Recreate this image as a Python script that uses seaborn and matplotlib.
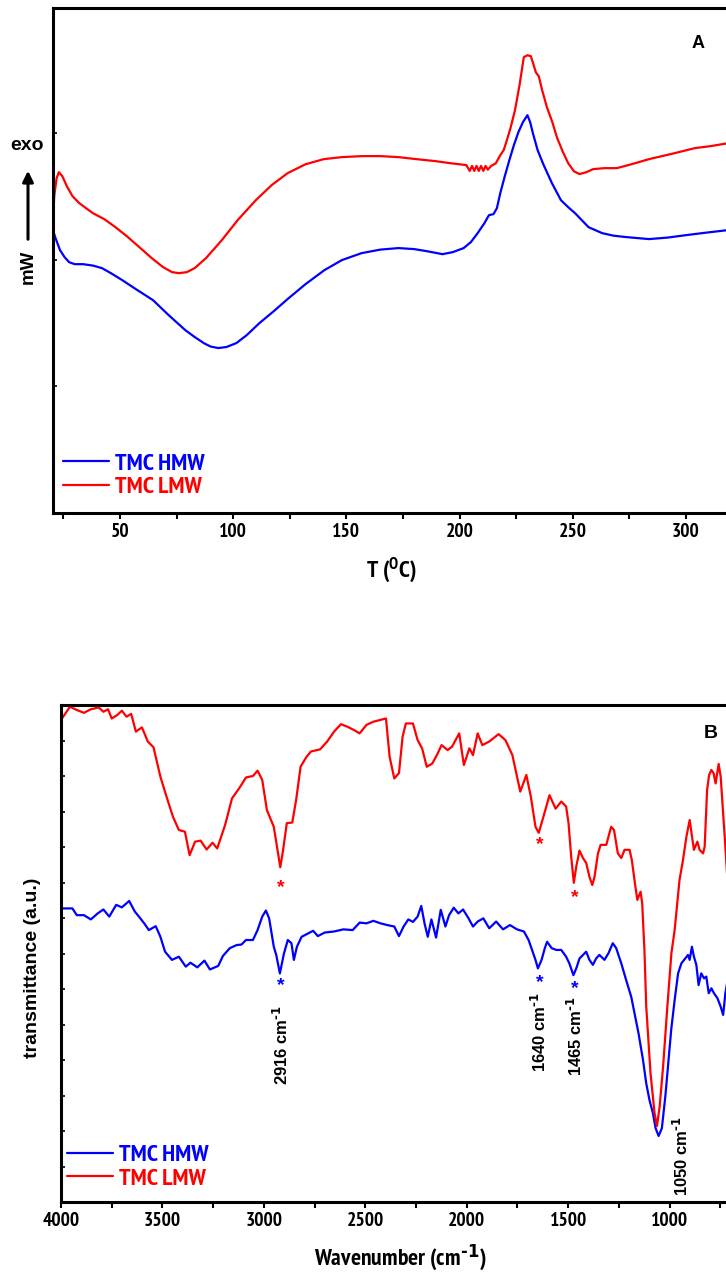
import pandas as pd
import matplotlib
matplotlib.use("Agg")
import matplotlib.pyplot as plt
import seaborn as sns
from matplotlib import font_manager

# ---- data ----
series = ["TMC HMW", "TMC LMW"]
colors = {"TMC HMW": "#0000FF", "TMC LMW": "#FF0000"}

# Panel A: DSC (T in degC, heat flow in arbitrary mW units)
dsc_t_hmw = [20.4, 21.5, 23.5, 25.5, 27.5, 30, 33.7, 38, 42, 46, 51, 57, 64.6, 71, 78.8, 83, 87, 90,
             93.4, 97, 101.4, 106, 111.6, 118, 124, 132, 140.3, 148, 156.7, 165, 173, 180, 185.4,
             192.5, 197, 201.8, 205, 208, 211, 213, 215, 216.5, 218, 220, 222, 224, 226, 228, 230,
             231.2, 232.4, 234.5, 237, 240.8, 244.8, 248, 251, 257, 263, 268, 273.5, 283.7, 292,
             300, 309, 318.6]
dsc_hmw = [2.233, 2.170, 2.075, 2.020, 1.980, 1.964, 1.964, 1.953, 1.933, 1.893, 1.838, 1.767, 1.680,
           1.570, 1.444, 1.389, 1.341, 1.314, 1.302, 1.310, 1.341, 1.404, 1.499, 1.594, 1.688, 1.807,
           1.917, 1.996, 2.051, 2.079, 2.091, 2.083, 2.067, 2.043, 2.059, 2.091, 2.138, 2.209, 2.288,
           2.351, 2.359, 2.406, 2.525, 2.659, 2.785, 2.903, 3.006, 3.085, 3.140, 3.085, 2.998, 2.864,
           2.753, 2.604, 2.469, 2.414, 2.367, 2.256, 2.209, 2.189, 2.178, 2.162, 2.174, 2.193, 2.213,
           2.233]

dsc_t_lmw = [20.4, 21, 22, 23, 24.5, 26.5, 29, 32, 35, 38, 43, 48, 53, 58.5, 64, 69, 73, 76, 79.5, 83,
             88, 95, 102, 110, 117, 124, 132, 140, 148, 157, 165, 173, 181, 189.5, 196, 203, 204.5,
             205.5, 206.5, 207.5, 208.5, 209.5, 210.5, 211.5, 212.5, 214, 216, 218, 219.5, 220.5,
             222.5, 224.5, 226.5, 228.4, 230, 231.5, 232.5, 233.7, 235, 236.5, 238.6, 241, 243, 245.5,
             248, 250.5, 253, 256, 259, 264, 269.5, 276, 283.7, 294, 304, 311, 318.6]
dsc_lmw = [2.335, 2.509, 2.643, 2.690, 2.659, 2.580, 2.501, 2.446, 2.406, 2.367, 2.320, 2.256, 2.185,
           2.099, 2.012, 1.941, 1.901, 1.893, 1.901, 1.933, 2.012, 2.154, 2.312, 2.469, 2.588, 2.682,
           2.753, 2.793, 2.809, 2.817, 2.817, 2.809, 2.793, 2.777, 2.761, 2.746, 2.70, 2.74, 2.70,
           2.74, 2.70, 2.74, 2.70, 2.74, 2.71, 2.74, 2.76, 2.824, 2.864, 2.919, 3.037, 3.180, 3.377,
           3.598, 3.613, 3.606, 3.550, 3.479, 3.448, 3.337, 3.203, 3.085, 2.966, 2.856, 2.761, 2.698,
           2.675, 2.690, 2.714, 2.722, 2.722, 2.753, 2.793, 2.836, 2.880, 2.896, 2.919]

# Panel B: FTIR (wavenumber in cm-1, transmittance in arbitrary units)
ir_wn_hmw = [4000, 3944, 3922, 3887, 3853, 3819, 3791, 3762, 3728, 3700, 3664, 3636, 3613, 3590, 3567,
             3533, 3510, 3487, 3453, 3419, 3385, 3362, 3328, 3293, 3266, 3225, 3202, 3168, 3133, 3111,
             3088, 3054, 3031, 3008, 2990, 2974, 2951, 2939, 2921, 2901, 2882, 2864, 2852, 2837, 2814,
             2780, 2757, 2734, 2700, 2654, 2608, 2562, 2528, 2494, 2460, 2425, 2391, 2357, 2334, 2311,
             2288, 2265, 2242, 2224, 2208, 2192, 2174, 2151, 2128, 2105, 2087, 2064, 2041, 2018, 1991,
             1969, 1946, 1918, 1889, 1855, 1821, 1787, 1752, 1718, 1695, 1672, 1661, 1649, 1631, 1615,
             1604, 1581, 1558, 1534, 1510, 1494, 1474, 1460, 1444, 1427, 1411, 1395, 1378, 1362, 1346,
             1321, 1301, 1280, 1263, 1238, 1214, 1189, 1173, 1153, 1131, 1115, 1099, 1082, 1069, 1054,
             1038, 1021, 1008, 992, 975, 958, 942, 923, 909, 901, 890, 880, 868, 857, 844, 830, 819,
             807, 794, 781, 764, 748, 736, 725, 715]
ir_hmw = [8.27, 8.27, 8.08, 8.08, 7.96, 8.13, 8.24, 8.04, 8.37, 8.30, 8.48, 8.18, 8.02, 7.85, 7.66,
          7.77, 7.47, 7.05, 6.82, 6.91, 6.63, 6.74, 6.61, 6.80, 6.55, 6.65, 6.93, 7.15, 7.24, 7.25,
          7.38, 7.38, 7.66, 8.04, 8.21, 7.99, 7.19, 6.96, 6.44, 7.00, 7.38, 7.29, 6.82, 7.19, 7.47,
          7.57, 7.64, 7.49, 7.59, 7.62, 7.68, 7.66, 7.87, 7.85, 7.92, 7.85, 7.80, 7.76, 7.49, 7.76,
          7.96, 7.89, 8.04, 8.34, 7.85, 7.47, 7.96, 7.45, 8.23, 7.76, 8.08, 8.29, 8.13, 8.24, 7.99,
          7.76, 7.90, 7.99, 7.71, 7.90, 7.68, 7.80, 7.68, 7.62, 7.38, 7.00, 6.82, 6.58, 6.82, 7.15,
          7.33, 7.15, 7.10, 7.10, 6.91, 6.72, 6.39, 6.58, 6.86, 6.96, 7.05, 6.82, 6.68, 6.86, 6.96,
          6.82, 7.01, 7.29, 7.15, 6.72, 6.25, 5.78, 5.32, 4.75, 4.00, 3.34, 2.87, 2.50, 2.08, 1.86,
          2.08, 2.97, 3.81, 4.85, 5.69, 6.44, 6.72, 6.86, 6.96, 6.82, 7.19, 6.91, 6.68, 6.11, 6.44,
          6.30, 6.35, 5.88, 6.02, 5.88, 5.74, 5.50, 5.27, 5.88, 6.21]

ir_wn_lmw = [4000, 3956, 3922, 3887, 3853, 3814, 3791, 3768, 3750, 3722, 3700, 3677, 3654, 3631, 3601,
             3572, 3544, 3510, 3480, 3448, 3419, 3389, 3366, 3339, 3312, 3282, 3253, 3230, 3191, 3157,
             3122, 3088, 3054, 3031, 3008, 2985, 2951, 2933, 2919, 2905, 2887, 2860, 2841, 2819, 2791,
             2768, 2723, 2688, 2654, 2620, 2585, 2551, 2528, 2494, 2460, 2425, 2398, 2380, 2357, 2334,
             2316, 2300, 2265, 2242, 2220, 2197, 2170, 2147, 2124, 2094, 2072, 2037, 2014, 1987, 1969,
             1946, 1923, 1889, 1843, 1809, 1775, 1752, 1736, 1706, 1684, 1661, 1645, 1622, 1592, 1562,
             1534, 1510, 1498, 1485, 1472, 1460, 1444, 1427, 1411, 1395, 1381, 1370, 1353, 1340, 1312,
             1288, 1274, 1255, 1238, 1222, 1197, 1186, 1173, 1159, 1143, 1135, 1124, 1115, 1094, 1074,
             1062, 1049, 1032, 1011, 991, 975, 951, 934, 917, 901, 889, 880, 863, 852, 835, 827, 815,
             805, 794, 783, 773, 758, 748, 736, 725, 715]
ir_lmw = [13.58, 13.95, 13.86, 13.78, 13.88, 13.93, 13.81, 13.88, 13.62, 13.72, 13.84, 13.67, 13.75,
          13.25, 13.37, 12.97, 12.81, 11.98, 11.42, 10.85, 10.48, 10.43, 9.77, 10.15, 10.18, 9.93,
          10.12, 9.96, 10.62, 11.37, 11.65, 11.96, 12.00, 12.15, 11.89, 11.04, 10.57, 9.92, 9.43,
          9.92, 10.67, 10.69, 11.32, 12.26, 12.53, 12.69, 12.75, 12.97, 13.25, 13.46, 13.38, 13.28,
          13.20, 13.44, 13.53, 13.58, 13.62, 12.54, 11.93, 12.08, 13.11, 13.48, 13.48, 13.01, 12.78,
          12.26, 12.35, 12.59, 12.87, 12.73, 12.83, 13.20, 12.31, 12.78, 12.59, 13.20, 12.87, 12.97,
          13.18, 13.01, 12.59, 11.98, 11.56, 12.03, 11.42, 10.57, 10.40, 10.85, 11.46, 11.08,
          11.28, 11.14, 10.67, 9.73, 8.99, 9.45, 9.90, 9.69, 9.55, 9.16, 8.93, 9.16, 9.82, 10.06,
          10.06, 10.57, 10.48, 9.82, 9.69, 9.92, 9.92, 9.63, 9.07, 8.51, 8.74, 8.42, 7.10, 5.50,
          3.63, 2.50, 2.14, 2.69, 3.81, 5.50, 7.01, 7.66, 9.07, 9.63, 10.29, 10.76, 10.29, 9.92,
          10.15, 9.92, 9.82, 10.01, 11.61, 12.03, 12.17, 12.08, 11.79, 12.34, 11.98, 10.95, 10.01,
          9.07]

# marked peaks: (wavenumber, y of asterisk baseline)
peaks_wn = [2916, 1640, 1465]
star_y_lmw = [8.73, 9.94, 8.45]
star_y_hmw = [5.97, 6.06, 5.89]
peak_labels = ["2916 cm$^{\\text{-1}}$", "1640 cm$^{\\text{-1}}$", "1465 cm$^{\\text{-1}}$",
               "1050 cm$^{\\text{-1}}$"]
peak_label_x = [2916, 1640, 1465, 942]
peak_label_y = [4.42, 4.79, 4.68, 1.30]

# ---- style ----
sns.set_style("ticks")


def find_narrow_bold():
    # an Arial-Narrow-like bold face for ticks, legend and axis titles
    found = []
    for f in font_manager.fontManager.ttflist:
        nm = (f.name + " " + str(f.fname)).lower()
        st = str(f.stretch).lower()
        narrow_like = ("narrow" in nm or "condensed" in nm
                       or st in ("condensed", "semi-condensed", "extra-condensed"))
        w = f.weight if isinstance(f.weight, int) else {"bold": 700}.get(str(f.weight), 400)
        if narrow_like and w >= 600:
            found.append(f)
    order = ["liberation sans narrow", "pt sans narrow", "pragati narrow"]
    found.sort(key=lambda f: (order.index(f.name.lower()) if f.name.lower() in order else 9, f.fname))
    return found


cands = find_narrow_bold()
if cands:
    narrow_prop = font_manager.FontProperties(fname=cands[0].fname)
else:
    narrow_prop = font_manager.FontProperties(family="Liberation Sans", weight="bold")

plt.rcParams["font.family"] = ["Liberation Sans", "DejaVu Sans"]
plt.rcParams["font.weight"] = "bold"
plt.rcParams["mathtext.default"] = "regular"
plt.rcParams["axes.linewidth"] = 2.2
plt.rcParams["text.color"] = "black"
plt.rcParams["axes.edgecolor"] = "black"
plt.rcParams["xtick.color"] = "black"
plt.rcParams["ytick.color"] = "black"

W, H = 726, 1274
fig = plt.figure(figsize=(W / 100, H / 100), dpi=100)
ax1 = fig.add_axes([53 / W, 1 - 513 / H, 675 / W, 505.5 / H])
ax2 = fig.add_axes([61 / W, 1 - 1202 / H, 667 / W, 497 / H])

dsc = pd.concat([
    pd.DataFrame({"T": dsc_t_hmw, "mW": dsc_hmw, "sample": series[0]}),
    pd.DataFrame({"T": dsc_t_lmw, "mW": dsc_lmw, "sample": series[1]}),
])
ftir = pd.concat([
    pd.DataFrame({"wn": ir_wn_hmw, "tr": ir_hmw, "sample": series[0]}),
    pd.DataFrame({"wn": ir_wn_lmw, "tr": ir_lmw, "sample": series[1]}),
])

sns.lineplot(data=dsc, x="T", y="mW", hue="sample", hue_order=series, palette=colors,
             estimator=None, sort=False, lw=1.6, ax=ax1, legend=False)
sns.lineplot(data=ftir, x="wn", y="tr", hue="sample", hue_order=series, palette=colors,
             estimator=None, sort=False, lw=1.6, ax=ax2, legend=False)


def nfont(size):
    p = narrow_prop.copy()
    p.set_size(size)
    return p


# panel A axes
ax1.set_xlim(20.4, 318.6)
ax1.set_ylim(0, 3.99)
ax1.set_xticks([50, 100, 150, 200, 250, 300])
ax1.set_xticks([25, 75, 125, 175, 225, 275], minor=True)
ax1.set_yticks([1, 2, 3])
ax1.set_xlabel("")
ax1.set_ylabel("")

# panel B axes
ax2.set_xlim(4000, 712)
ax2.set_ylim(0, 14)
ax2.set_xticks([4000, 3500, 3000, 2500, 2000, 1500, 1000])
ax2.set_xticks([3750, 3250, 2750, 2250, 1750, 1250, 750], minor=True)
ax2.set_yticks(range(1, 14))
ax2.set_xlabel("")
ax2.set_ylabel("")

for ax in (ax1, ax2):
    ax.spines["right"].set_visible(False)
    ax.tick_params(axis="x", which="both", direction="out", length=4, width=1.5, pad=3)
    ax.tick_params(axis="y", which="both", direction="in", length=3, width=1.2, labelleft=False)
    for lab in ax.get_xticklabels():
        lab.set_fontproperties(nfont(14))
    handles = ax.lines[:2]
    ax.legend(handles, series, loc="center left", frameon=False, borderpad=0, borderaxespad=0,
              handlelength=1.9, handletextpad=0.22, labelspacing=0.08,
              prop=nfont(17.5), labelcolor="linecolor", bbox_transform=fig.transFigure,
              bbox_to_anchor=((63 if ax is ax1 else 67) / W,
                              1 - (475.5 if ax is ax1 else 1167) / H))

# axis titles / side labels
fig.text(391 / W, 1 - 570 / H, "T ($^{O}$C)", ha="center", va="center", fontproperties=nfont(17))
fig.text(400 / W, 1 - 1258 / H, "Wavenumber (cm$^{\\text{-1}}$)", ha="center", va="center",
         fontproperties=nfont(17))
fig.text(33 / W, 1 - 968 / H, "transmittance (a.u.)", rotation=90, ha="center", va="center",
         weight="bold", size=14)
fig.text(27 / W, 1 - 146 / H, "exo", ha="center", va="center", weight="bold", size=14)
fig.text(28 / W, 1 - 267 / H, "mW", rotation=90, ha="center", va="center", weight="bold", size=13.5)
fig.add_artist(matplotlib.patches.FancyArrowPatch(
    (28 / W, 1 - 242 / H), (28 / W, 1 - 168 / H), transform=fig.transFigure,
    arrowstyle="-|>", mutation_scale=16, lw=2.2, color="black"))
fig.text(698 / W, 1 - 43 / H, "A", ha="center", va="center", weight="bold", size=13)
fig.text(711 / W, 1 - 733 / H, "B", ha="center", va="center", weight="bold", size=14)

# peak markers and labels
for x, ys in zip(peaks_wn, star_y_lmw):
    ax2.text(x, ys, "*", color=colors[series[1]], ha="center", va="baseline", weight="bold", size=14)
for x, ys in zip(peaks_wn, star_y_hmw):
    ax2.text(x, ys, "*", color=colors[series[0]], ha="center", va="baseline", weight="bold", size=14)
for x, y, s in zip(peak_label_x, peak_label_y, peak_labels):
    ax2.text(x, y, s, rotation=90, ha="center", va="center", weight="bold", size=12)

fig.savefig("out.png", dpi=100)
